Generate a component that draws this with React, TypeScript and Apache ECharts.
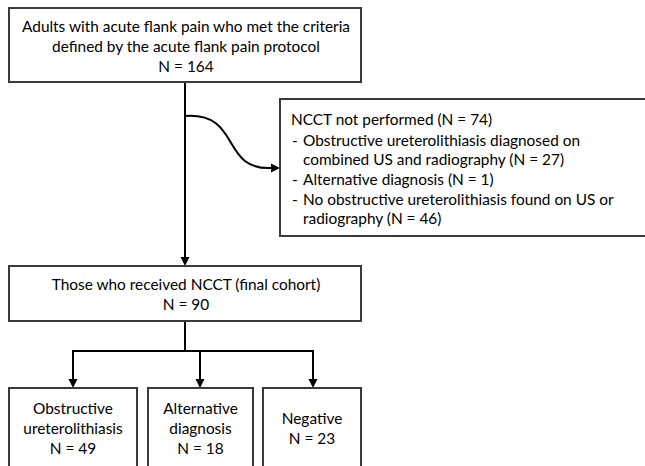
import React, { useEffect, useRef } from "react";
import * as echarts from "echarts";

const topLines = [
  "Adults with acute flank pain who met the criteria",
  "defined by the acute flank pain protocol",
];
const topCount = 164;
const excludedTitle = "NCCT not performed";
const excludedCount = 74;
const excludedItems = [
  ["Obstructive ureterolithiasis diagnosed on", "combined US and radiography"],
  ["Alternative diagnosis"],
  ["No obstructive ureterolithiasis found on US or", "radiography"],
];
const excludedCounts = [27, 1, 46];
const cohortLabel = "Those who received NCCT (final cohort)";
const cohortCount = 90;
const outcomeLabels = [["Obstructive", "ureterolithiasis"], ["Alternative", "diagnosis"], ["Negative"]];
const outcomeCounts = [49, 18, 23];

const FONT = "Lato";
const FS = 15.4;
const BORDER = "#3a3a3a";
const TXT = "#000";

export default function App() {
  const ref = useRef<HTMLDivElement>(null);
  useEffect(() => {
    document.body.style.margin = "0";
    const chart = echarts.init(ref.current!, null, { renderer: "svg" });

    const box = (x: number, y: number, w: number, h: number) => ({
      type: "rect",
      shape: { x, y, width: w, height: h },
      style: { fill: "#fff", stroke: BORDER, lineWidth: 2 },
    });
    const centerText = (cx: number, cy: number, lines: string[]) => ({
      type: "text",
      x: cx,
      y: cy,
      style: {
        text: lines.join("\n"),
        fontFamily: FONT,
        fontSize: FS,
        lineHeight: 20,
        fill: TXT,
        align: "center",
        verticalAlign: "middle",
      },
    });
    const line = (x1: number, y1: number, x2: number, y2: number) => ({
      type: "line",
      shape: { x1, y1, x2, y2 },
      style: { stroke: "#000", lineWidth: 2 },
    });
    const arrowDown = (x: number, y: number) => ({
      type: "polygon",
      shape: { points: [[x - 4.5, y - 9], [x + 4.5, y - 9], [x, y]] },
      style: { fill: "#000" },
    });
    const arrowRight = (x: number, y: number) => ({
      type: "polygon",
      shape: { points: [[x - 9, y - 4.5], [x - 9, y + 4.5], [x, y]] },
      style: { fill: "#000" },
    });

    const elements: any[] = [];
    elements.push(line(185, 82, 185, 258));
    elements.push(arrowDown(185, 266));
    elements.push({
      type: "bezierCurve",
      shape: { x1: 185, y1: 116, cpx1: 242, cpy1: 112, cpx2: 220, cpy2: 171, x2: 272, y2: 168 },
      style: { stroke: "#000", lineWidth: 2, fill: null },
    });
    elements.push(arrowRight(280, 168));

    elements.push(line(185, 321, 185, 351));
    const outX = [73, 200, 313];
    elements.push(line(outX[0] - 1, 351, outX[2] + 1, 351));
    outX.forEach((x) => {
      elements.push(line(x, 351, x, 380));
      elements.push(arrowDown(x, 388));
    });

    elements.push(box(9, 8, 352, 74));
    elements.push(centerText(186, 46, [...topLines, `N = ${topCount}`]));

    elements.push(box(280, 99, 370, 137));
    elements.push({
      type: "text",
      x: 291,
      y: 119,
      style: { text: `${excludedTitle} (N = ${excludedCount})`, fontFamily: FONT, fontSize: FS, fill: TXT, verticalAlign: "middle" },
    });
    let ly = 139.5;
    excludedItems.forEach((item, i) => {
      const lines = [...item];
      lines[lines.length - 1] = `${lines[lines.length - 1]} (N = ${excludedCounts[i]})`;
      elements.push({
        type: "text",
        x: 292,
        y: ly,
        style: { text: "-", fontFamily: FONT, fontSize: FS, fill: TXT, verticalAlign: "middle" },
      });
      elements.push({
        type: "text",
        x: 303,
        y: ly + ((lines.length - 1) * 19.7) / 2,
        style: {
          text: lines.join("\n"),
          fontFamily: FONT,
          fontSize: FS,
          lineHeight: 19.7,
          fill: TXT,
          verticalAlign: "middle",
        },
      });
      ly += lines.length * 19.7;
    });

    elements.push(box(9, 266, 352, 55));
    elements.push(centerText(186, 293.5, [cohortLabel, `N = ${cohortCount}`]));

    const boxes = [
      [9, 128],
      [148, 105],
      [263, 98],
    ];
    boxes.forEach(([x, w], i) => {
      elements.push(box(x, 388, w, 90));
      const lines = [...outcomeLabels[i], `N = ${outcomeCounts[i]}`];
      elements.push(centerText(x + w / 2, lines.length === 3 ? 427.5 : 427.5, lines));
    });

    chart.setOption({
      animation: false,
      backgroundColor: "#fff",
      graphic: { elements },
    });
    return () => chart.dispose();
  }, []);
  return <div ref={ref} style={{ width: 645, height: 466 }} />;
}
